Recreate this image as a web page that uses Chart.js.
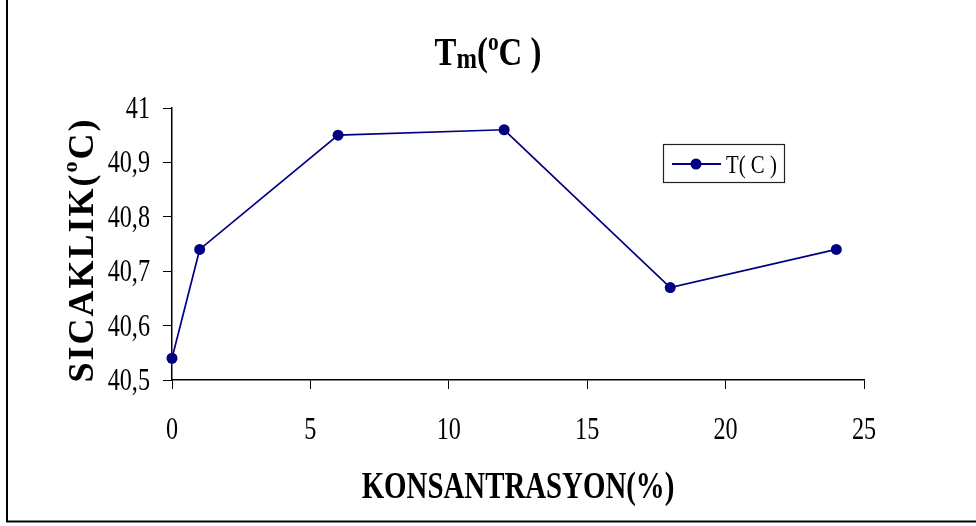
<!DOCTYPE html>
<html>
<head>
<meta charset="utf-8">
<title>Tm</title>
<script src="https://cdn.jsdelivr.net/npm/chart.js@4/dist/chart.umd.min.js"></script>
<style>
  html, body { margin: 0; padding: 0; background: #fff; }
  #wrap { position: relative; width: 976px; height: 526px; }
</style>
</head>
<body>
<div id="wrap"><canvas id="chart" width="976" height="526"></canvas></div>
<script>
// Concentration (%) and melting temperature (°C)
const concentrations = [0, 1, 6, 12, 18, 24];
const meltingTemps = [40.54, 40.74, 40.95, 40.96, 40.67, 40.74];
const seriesLabel = 'T( C )';

const SERIF = '"Liberation Serif", "Times New Roman", serif';
const NAVY = '#000080';

// Decimal comma tick text: 40,9 / 41
const tickText = v => String(Math.round(v * 10) / 10).replace('.', ',');

// Draw a row of text runs (normal / superscript / subscript) with optional horizontal squeeze
function drawRuns(ctx, runs, x, y, opts) {
  const sx = opts.scaleX || 1;
  ctx.save();
  ctx.translate(x, y);
  if (opts.rotate) ctx.rotate(opts.rotate);
  ctx.scale(sx, 1);
  ctx.letterSpacing = (opts.spacing || 0) + 'px';
  let total = 0;
  runs.forEach(r => {
    ctx.font = (r.bold ? 'bold ' : '') + r.size + 'px ' + SERIF;
    r.w = ctx.measureText(r.text).width;
    total += r.w;
  });
  let cx = 0;
  if (opts.align === 'center') cx = -total / 2;
  else if (opts.align === 'right') cx = -total;
  ctx.fillStyle = '#000';
  ctx.textBaseline = 'alphabetic';
  ctx.textAlign = 'left';
  runs.forEach(r => {
    ctx.font = (r.bold ? 'bold ' : '') + r.size + 'px ' + SERIF;
    ctx.fillText(r.text, cx, r.dy || 0);
    cx += r.w;
  });
  ctx.restore();
}

const decorations = {
  id: 'decorations',
  beforeDraw(chart) {
    const ctx = chart.ctx;
    ctx.save();
    ctx.fillStyle = '#fff';
    ctx.fillRect(0, 0, chart.width, chart.height);
    // frame
    ctx.strokeStyle = '#000';
    ctx.lineWidth = 2;
    ctx.beginPath();
    ctx.moveTo(7, 0);
    ctx.lineTo(7, 521.5);
    ctx.lineTo(chart.width, 521.5);
    ctx.stroke();
    ctx.restore();
  },
  afterDraw(chart) {
    const ctx = chart.ctx;
    const area = chart.chartArea;
    const midX = (area.left + area.right) / 2;
    const xs = chart.scales.x;
    const ys = chart.scales.y;

    // tick labels, placed through the scales
    xs.ticks.forEach(t => {
      drawRuns(ctx, [{ text: tickText(t.value), size: 31 }],
        xs.getPixelForValue(t.value), 439, { align: 'center', scaleX: 0.78 });
    });
    ys.ticks.forEach(t => {
      drawRuns(ctx, [{ text: tickText(t.value), size: 31 }],
        150, ys.getPixelForValue(t.value) + 10, { align: 'right', scaleX: 0.78 });
    });

    // chart title: Tm(°C )
    drawRuns(ctx, [
      { text: 'T', size: 40, bold: true },
      { text: 'm', size: 30, bold: true, dy: 3 },
      { text: '(', size: 40, bold: true },
      { text: 'o', size: 26, bold: true, dy: -15 },
      { text: 'C )', size: 40, bold: true }
    ], 488, 65, { align: 'center', scaleX: 0.82 });

    // x axis title
    drawRuns(ctx, [
      { text: 'KONSANTRASYON(%)', size: 37, bold: true }
    ], midX, 498, { align: 'center', scaleX: 0.78 });

    // y axis title
    drawRuns(ctx, [
      { text: 'SICAKLIK(', size: 36, bold: true },
      { text: 'o', size: 22, bold: true, dy: -16 },
      { text: 'C)', size: 36, bold: true }
    ], 93, (area.top + area.bottom) / 2 + 6, { align: 'center', rotate: -Math.PI / 2, spacing: 2 });

    // legend
    ctx.save();
    ctx.strokeStyle = '#222';
    ctx.lineWidth = 1.2;
    ctx.strokeRect(663.5, 144.5, 121, 38);
    ctx.strokeStyle = NAVY;
    ctx.lineWidth = 1.8;
    ctx.beginPath();
    ctx.moveTo(672, 164);
    ctx.lineTo(721, 164);
    ctx.stroke();
    ctx.fillStyle = NAVY;
    ctx.beginPath();
    ctx.arc(696, 164, 5.5, 0, Math.PI * 2);
    ctx.fill();
    ctx.restore();
    drawRuns(ctx, [{ text: seriesLabel, size: 26 }], 726, 173, { align: 'left', scaleX: 0.8 });
  }
};

new Chart(document.getElementById('chart'), {
  type: 'line',
  data: {
    datasets: [{
      label: seriesLabel,
      data: concentrations.map((c, i) => ({ x: c, y: meltingTemps[i] })),
      borderColor: NAVY,
      backgroundColor: NAVY,
      borderWidth: 1.7,
      pointRadius: 5.5,
      pointBackgroundColor: NAVY,
      pointBorderColor: NAVY,
      pointBorderWidth: 0,
      tension: 0,
      fill: false,
      clip: false
    }]
  },
  options: {
    responsive: false,
    animation: false,
    devicePixelRatio: 1,
    layout: { padding: { left: 0, top: 108, right: 112, bottom: 0 } },
    plugins: {
      legend: { display: false },
      title: { display: false },
      tooltip: { enabled: false }
    },
    scales: {
      x: {
        type: 'linear',
        min: 0,
        max: 25,
        ticks: { stepSize: 5, display: false },
        grid: { drawOnChartArea: false, tickLength: 9, color: '#000', lineWidth: 1 },
        border: { color: '#000', width: 1.5 },
        afterFit(scale) { scale.height = 146; }
      },
      y: {
        min: 40.5,
        max: 41,
        ticks: { stepSize: 0.1, display: false },
        grid: { drawOnChartArea: false, tickLength: 9, color: '#000', lineWidth: 1 },
        border: { color: '#000', width: 1.5 },
        afterFit(scale) { scale.width = 172; }
      }
    }
  },
  plugins: [decorations]
});
</script>
</body>
</html>
